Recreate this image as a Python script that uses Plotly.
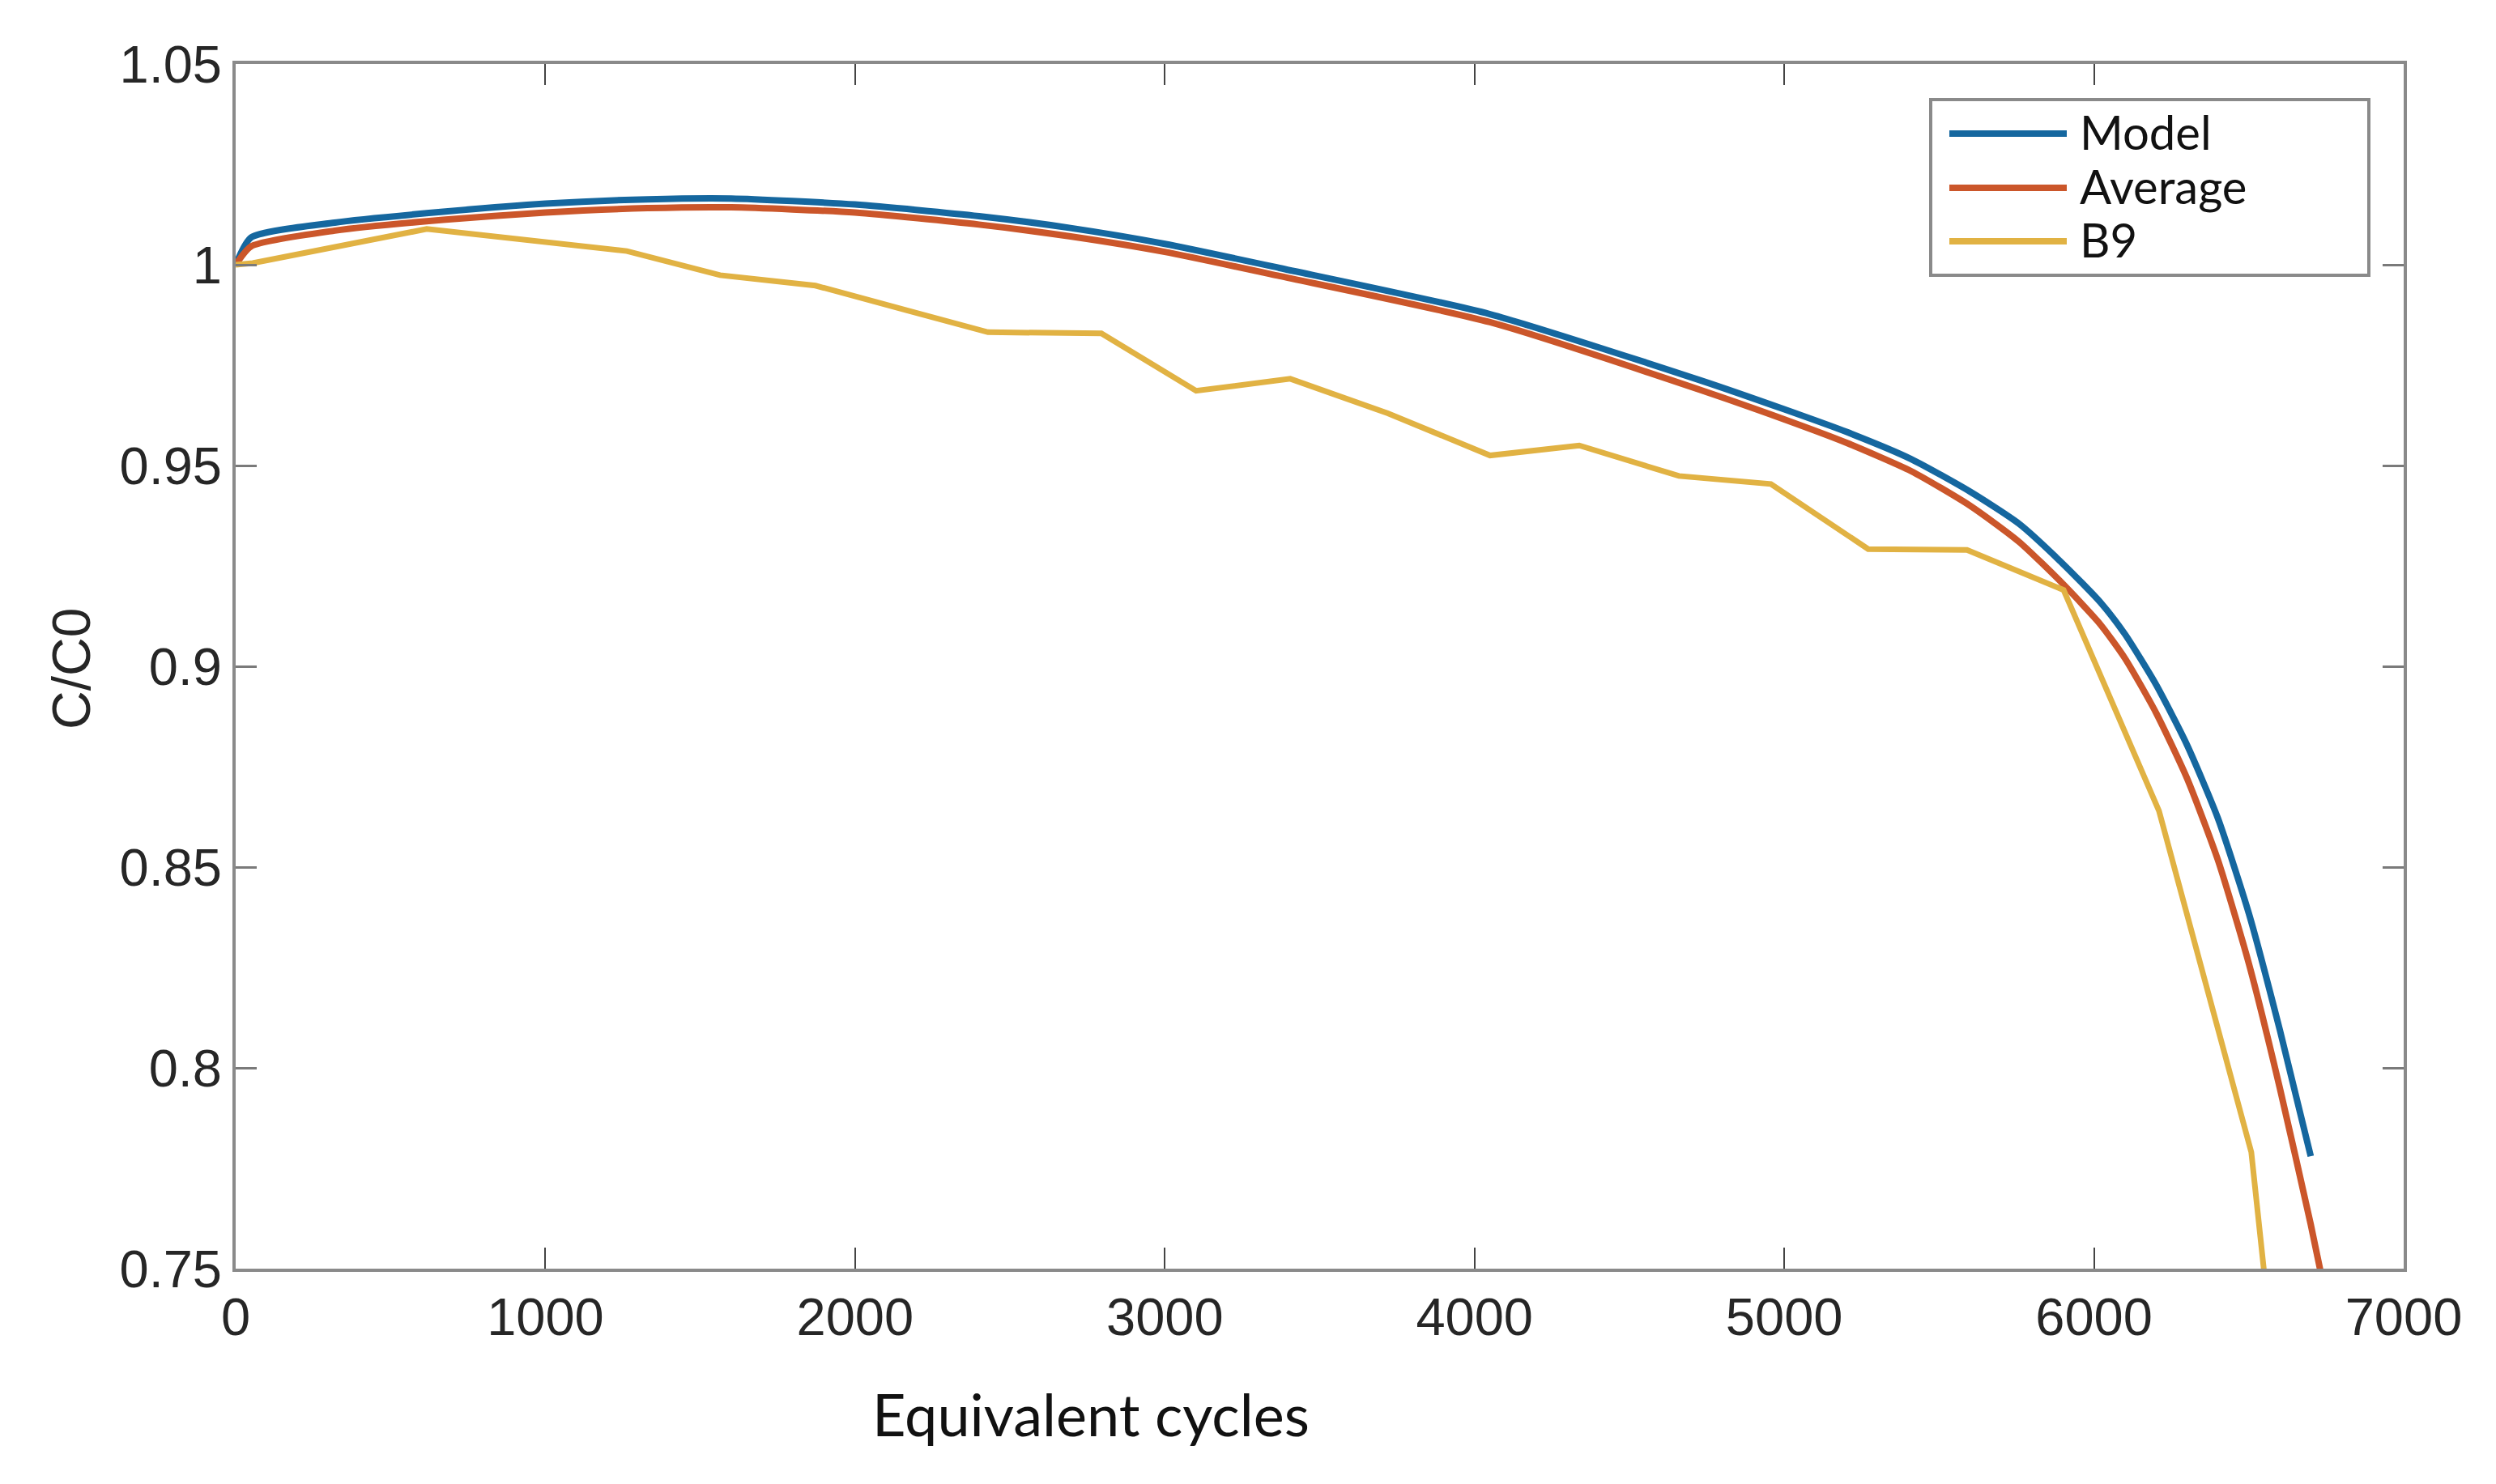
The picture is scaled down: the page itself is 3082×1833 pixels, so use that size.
import plotly.graph_objects as go

# ---- data ----
model_x = [0, 50, 320, 670, 1000, 1330, 1600, 2000, 2400, 2691, 3000, 3370, 4050, 4730,
           5000, 5200, 5410, 5600, 5758, 5900, 6020, 6100, 6200, 6300, 6400, 6500, 6600, 6700]
model_y = [1.000, 1.0068, 1.0105, 1.0132, 1.0152, 1.0163, 1.0165, 1.0150, 1.0121, 1.0092, 1.0052, 0.9992, 0.9877, 0.9712,
           0.9640, 0.9584, 0.9516, 0.9435, 0.9355, 0.9255, 0.9160, 0.9080, 0.8955, 0.8805, 0.8622, 0.8385, 0.8095, 0.7780]

avg_x = [0, 50, 320, 670, 1000, 1330, 1600, 2000, 2400, 2691, 3000, 3370, 4050, 4730,
         5000, 5200, 5410, 5600, 5758, 5900, 6020, 6100, 6200, 6300, 6400, 6500, 6600, 6700, 6740]
avg_y = [1.000, 1.0046, 1.0085, 1.0112, 1.0130, 1.0141, 1.0143, 1.0130, 1.0100, 1.0071, 1.0032, 0.9972, 0.9857, 0.9688,
         0.9615, 0.9557, 0.9486, 0.9400, 0.9310, 0.9205, 0.9105, 0.9020, 0.8885, 0.8722, 0.8518, 0.8260, 0.7950, 0.7610, 0.7462]

b9_x = [0, 55, 617, 1263, 1564, 1872, 2170, 2429, 2795, 3101, 3405, 3720, 4050, 4338,
        4660, 4957, 5271, 5590, 5902, 6210, 6508, 6551]
b9_y = [1.000, 1.0004, 1.0089, 1.0034, 0.9974, 0.9948, 0.9886, 0.9832, 0.9829, 0.9686, 0.9716, 0.9630, 0.9525, 0.9550,
        0.9474, 0.9454, 0.9292, 0.9290, 0.9190, 0.8640, 0.7790, 0.7480]

series_names = ["Model", "Average", "B9"]
series_colors = ["#15679F", "#CB562A", "#E1B243"]

x_ticks = [0, 1000, 2000, 3000, 4000, 5000, 6000, 7000]
y_ticks = [0.75, 0.8, 0.85, 0.9, 0.95, 1.0, 1.05]
y_tick_text = ["0.75", "0.8", "0.85", "0.9", "0.95", "1", "1.05"]

# ---- figure ----
PAGE_W, PAGE_H = 3082, 1833
OFF = 8                      # default body margin of the html page
W, H = PAGE_W - OFF, PAGE_H - OFF
L, R, T, B = 291, 2968, 79, 1567   # plot area in page pixels

fig = go.Figure()
for xs, ys, name, col, w, shape in [(model_x, model_y, series_names[0], series_colors[0], 8, "spline"),
                                    (avg_x, avg_y, series_names[1], series_colors[1], 8, "spline"),
                                    (b9_x, b9_y, series_names[2], series_colors[2], 7, "linear")]:
    line = dict(color=col, width=w, shape=shape)
    if shape == "spline":
        line["smoothing"] = 0.6
    fig.add_trace(go.Scatter(x=xs, y=ys, mode="lines", name=name,
                             line=line, showlegend=False))

axis_common = dict(showline=True, linecolor="#8a8a8a", linewidth=4, mirror="allticks",
                   ticks="inside", ticklen=26, showgrid=False, zeroline=False,
                   tickfont=dict(family="Liberation Sans, Arial", size=65, color="#262626"))

fig.update_xaxes(range=[0, 7000], tickvals=x_ticks, ticktext=[str(v) for v in x_ticks],
                 tickcolor="#444444", tickwidth=2, **axis_common)
fig.update_yaxes(range=[0.75, 1.05], tickvals=y_ticks, ticktext=y_tick_text,
                 tickcolor="#7a7a7a", tickwidth=3, **axis_common)


def px_x(p):
    return (p - L) / (R - L)


def px_y(p):
    return (B - p) / (B - T)


shapes = []
annotations = []
# legend box
shapes.append(dict(type="rect", xref="paper", yref="paper",
                   x0=px_x(2384), x1=px_x(2925), y0=px_y(340), y1=px_y(123),
                   line=dict(color="#8a8a8a", width=4), fillcolor="white", layer="above"))
leg_rows = [165, 232, 298]
for name, col, py in zip(series_names, series_colors, leg_rows):
    shapes.append(dict(type="line", xref="paper", yref="paper",
                       x0=px_x(2407), x1=px_x(2552), y0=px_y(py), y1=px_y(py),
                       line=dict(color=col, width=8), layer="above"))
    annotations.append(dict(text=name, xref="paper", yref="paper",
                            x=px_x(2566), y=px_y(py - 3), xanchor="left", yanchor="middle",
                            showarrow=False,
                            font=dict(family="Lato, Open Sans", size=58, color="#111111")))

# axis titles
annotations.append(dict(text="Equivalent cycles", xref="paper", yref="paper",
                        x=px_x(1347), y=px_y(1746), xanchor="center", yanchor="middle",
                        showarrow=False,
                        font=dict(family="Lato, Open Sans", size=72, color="#111111")))
annotations.append(dict(text="C/C0", xref="paper", yref="paper",
                        x=px_x(88), y=px_y(826), xanchor="center", yanchor="middle",
                        textangle=-90, showarrow=False,
                        font=dict(family="Liberation Sans, Arial", size=66, color="#262626")))

fig.update_layout(width=W, height=H,
                  margin=dict(l=L - OFF, r=PAGE_W - R, t=T - OFF, b=PAGE_H - B, autoexpand=False),
                  paper_bgcolor="white", plot_bgcolor="white",
                  shapes=shapes, annotations=annotations, showlegend=False)

fig.write_html("out.html")
